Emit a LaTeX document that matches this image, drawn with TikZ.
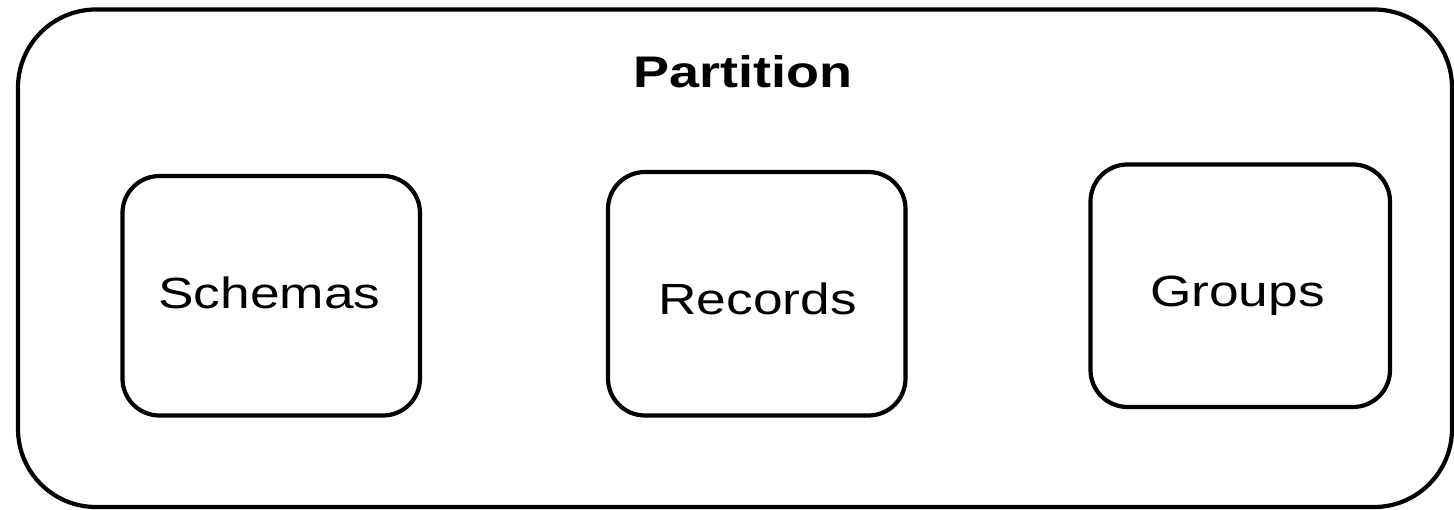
\documentclass[tikz,border=0pt]{standalone}
\usepackage{graphicx}
\usepackage{fontspec}
\setmainfont{Liberation Sans}
% labels are set large and squeezed vertically
\newcommand{\flattext}[1]{\scalebox{1}[0.82]{#1}}
\begin{document}
\begin{tikzpicture}[x=1pt,y=-1pt,
  container/.style={draw=black,line width=4.2pt,rounded corners=78pt},
  partbox/.style={draw=black,line width=4.2pt,rounded corners=37pt,
    inner sep=0pt,minimum width=297.5pt},
  caption/.style={anchor=base,inner sep=0pt,font=\fontsize{53.3}{60}\selectfont},
  heading/.style={caption,font=\fontsize{54}{60}\selectfont\bfseries}]
  % canvas
  \useasboundingbox (0,0) rectangle (1454,510);
  % partition container
  \draw[container] (18,9.5) rectangle (1452,507);
  \node[heading] (title) at (743,88) {\flattext{Partition}};
  % member boxes
  \node[partbox,minimum height=239.5pt] (schemas) at (271.25,295.75) {};
  \node[partbox,minimum height=243.5pt] (records) at (756.75,293.75) {};
  \node[partbox,minimum height=242.5pt,minimum width=299.5pt] (groups) at (1240.25,285.75) {};
  % box labels
  \node[caption] (schemastext) at (269.5,309) {\flattext{Schemas}};
  \node[caption] (recordstext) at (757.5,314.3) {\flattext{Records}};
  \node[caption] (groupstext) at (1237.5,306.7) {\flattext{Groups}};
\end{tikzpicture}
\end{document}
